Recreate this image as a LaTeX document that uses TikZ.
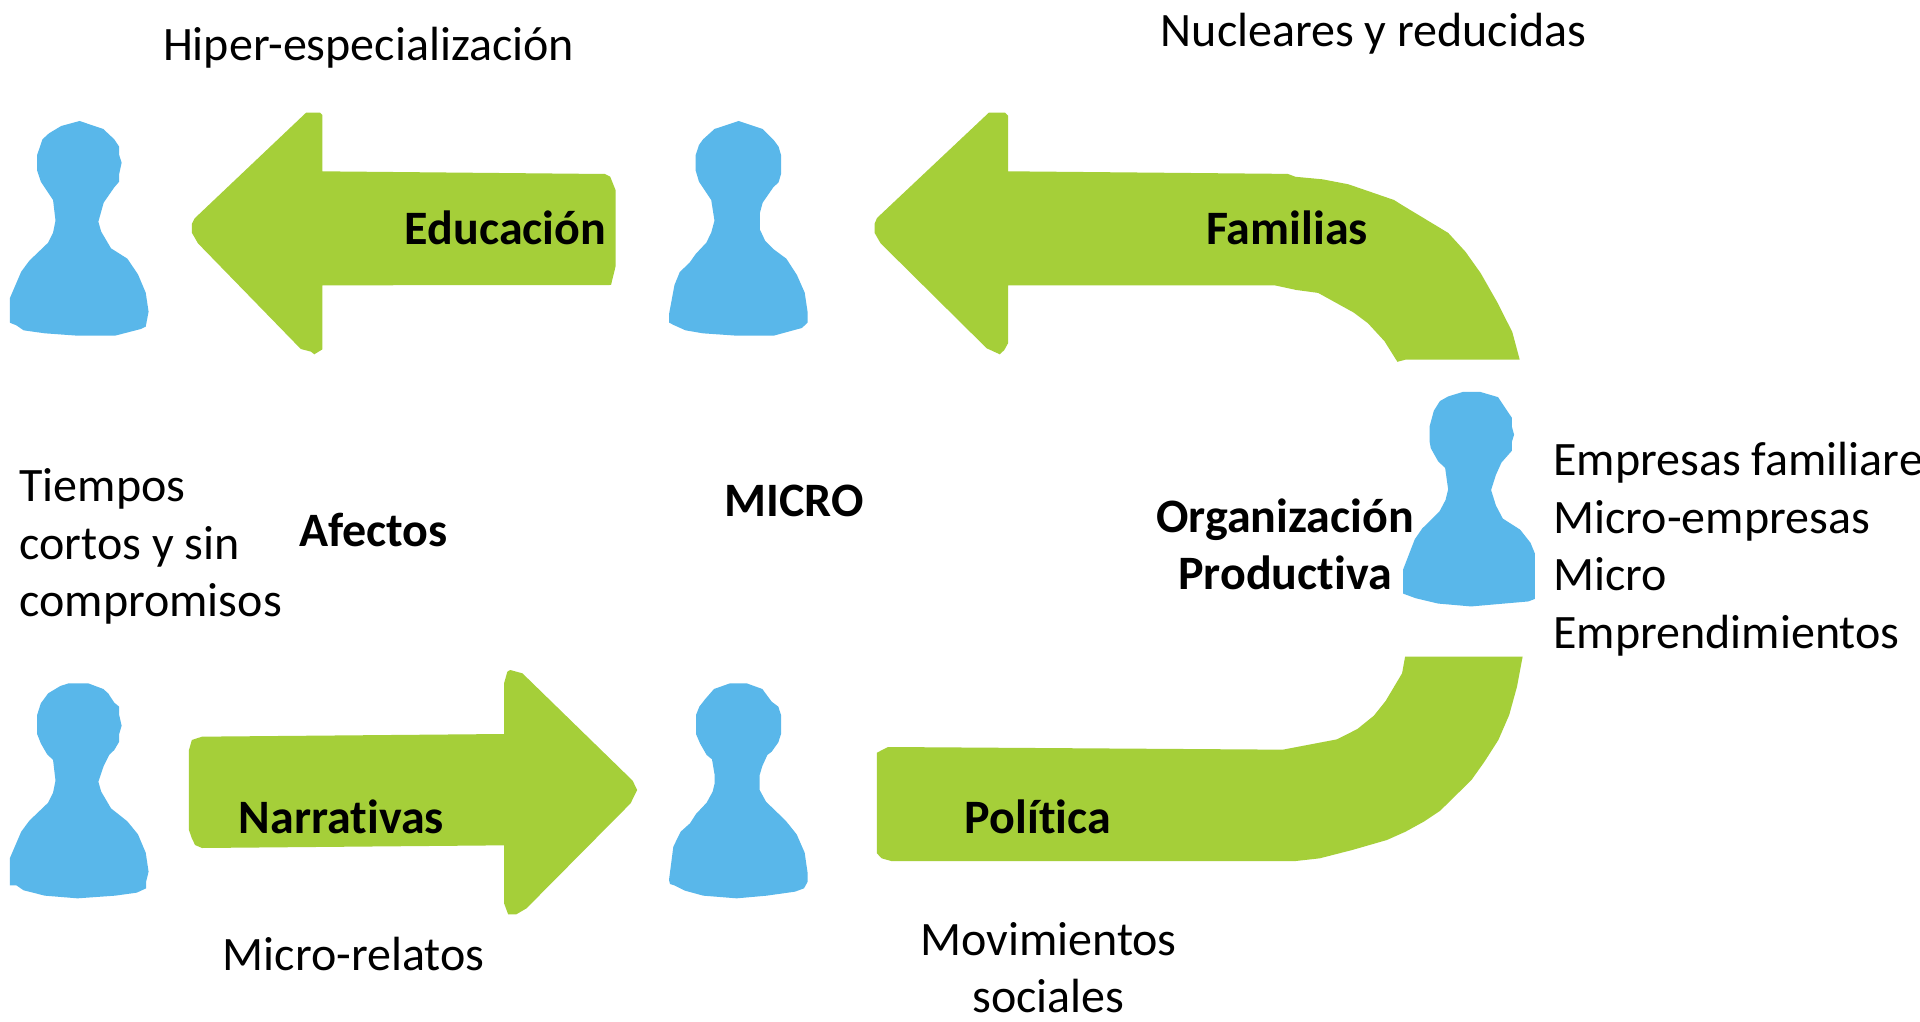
\documentclass[tikz,border=0pt]{standalone}
\usepackage{fontspec}
\setmainfont[Ligatures=NoCommon]{Carlito}
\definecolor{personblue}{RGB}{89,183,234}
\definecolor{arrowgreen}{RGB}{165,207,57}
\tikzset{
  person/.style={fill=personblue,draw=none},
  bigarrow/.style={fill=arrowgreen,draw=none},
  lbl/.style={font=\fontsize{48}{57.5}\selectfont,inner sep=0pt,outer sep=0pt,text=black},
  lblb/.style={lbl,font=\fontsize{48}{57.5}\selectfont\bfseries},
  zoomA/.style={x=0.40816pt,y=-0.33333pt},
  zoomB/.style={x=0.43366pt,y=-0.35714pt},
  zoomC/.style={x=0.43366pt,y=-0.33333pt},
  zoomD/.style={x=0.33333pt,y=-0.33333pt}
}
\begin{document}
\begin{tikzpicture}[x=1pt,y=-1pt]
\useasboundingbox[fill=white] (0,0) rectangle (1920,1022);
% persons
\begin{scope}[shift={(0,100)},zoomA]
\path[person] (195,63)--(253,87)--(280,118)--(292,140)--(292,165)--(298,188)--(292,222)--(292,245)--(280,262)--(254,308)--(241,365)--(248,395)--(272,445)--(312,476)--(338,523)--(357,578)--(364,635)--(357,680)--(345,687)--(282,707)--(190,707)--(110,700)--(58,691)--(40,676)--(24,668)--(24,595)--(52,515)--(72,482)--(118,428)--(130,398)--(136,362)--(130,300)--(100,245)--(91,212)--(91,165)--(104,118)--(120,100)--(150,78)--cycle;
\path[bigarrow] (750,38)--(784,38)--(790,45)--(790,214)--(1482,222)--(1495,230)--(1508,270)--(1508,500)--(1497,555)--(790,556)--(790,748)--(770,763)--(762,755)--(737,747)--(485,430)--(470,398)--(470,372)--(477,355)--cycle;
\end{scope}
\begin{scope}[shift={(650,100)},zoomA]
\path[person] (217,63)--(276,87)--(303,120)--(315,140)--(321,165)--(321,222)--(315,247)--(302,262)--(276,308)--(269,340)--(269,388)--(282,422)--(302,447)--(334,476)--(360,525)--(379,578)--(386,635)--(386,668)--(372,684)--(303,707)--(212,707)--(130,700)--(87,691)--(58,675)--(47,668)--(47,640)--(60,555)--(73,516)--(97,488)--(112,462)--(138,428)--(150,398)--(158,362)--(150,300)--(120,245)--(112,212)--(112,165)--(120,135)--(130,118)--(158,87)--cycle;
\end{scope}
\begin{scope}[shift={(0,660)},zoomA]
\path[person] (168,70)--(216,70)--(253,87)--(265,100)--(280,128)--(292,140)--(292,165)--(298,197)--(292,222)--(292,245)--(280,270)--(268,284)--(254,318)--(241,365)--(248,395)--(272,445)--(312,484)--(338,523)--(357,578)--(364,635)--(358,665)--(358,685)--(335,698)--(282,707)--(190,715)--(110,707)--(58,691)--(40,676)--(24,676)--(24,595)--(52,515)--(72,482)--(118,428)--(130,398)--(136,362)--(130,300)--(115,282)--(100,250)--(91,222)--(91,165)--(100,130)--(118,100)--(148,78)--cycle;
\path[bigarrow] (495,230)--(1235,222)--(1235,70)--(1243,35)--(1250,30)--(1280,40)--(1550,362)--(1561,390)--(1545,430)--(1290,745)--(1265,763)--(1245,763)--(1235,730)--(1235,556)--(495,564)--(478,555)--(470,535)--(463,510)--(463,270)--(470,240)--cycle;
\end{scope}
\begin{scope}[shift={(640,660)},zoomD]
\path[person] (270,70)--(320,70)--(367,87)--(395,125)--(415,140)--(423,165)--(423,222)--(415,247)--(395,275)--(382,285)--(367,318)--(359,345)--(359,390)--(378,425)--(437,482)--(470,523)--(494,578)--(503,640)--(503,665)--(492,685)--(465,695)--(380,707)--(290,715)--(190,707)--(135,692)--(103,676)--(90,672)--(87,660)--(100,560)--(122,515)--(150,490)--(168,462)--(200,428)--(218,395)--(224,370)--(224,345)--(216,298)--(200,285)--(180,250)--(168,222)--(168,165)--(178,140)--(195,118)--(222,87)--cycle;
\end{scope}
\begin{scope}[shift={(1240,100)},zoomB]
\path[person] (515,817)--(553,817)--(595,832)--(627,890)--(627,915)--(632,937)--(627,957)--(627,982)--(603,1015)--(590,1050)--(579,1092)--(590,1135)--(606,1172)--(646,1203)--(670,1240)--(680,1270)--(680,1397)--(665,1404)--(533,1418)--(457,1410)--(405,1395)--(376,1382)--(376,1315)--(403,1230)--(420,1200)--(460,1152)--(474,1120)--(480,1090)--(473,1030)--(457,1012)--(440,975)--(437,955)--(437,915)--(447,870)--(461,843)--(480,830)--cycle;
\end{scope}
% curved arrows
\path[bigarrow] (988.8,112.7)--(1005.1,112.7)--(1008,115.7)--(1008,171.3)--(1287.7,173.9)--(1295.5,176.8)--(1322.4,179.3)--(1348.4,184.3)--(1394,200)--(1402.6,205.4)--(1448.2,232.9)--(1465.5,251.8)--(1480.7,273.2)--(1498,303.6)--(1512.3,332.1)--(1519.7,359.6)--(1405.7,359.6)--(1397.4,361.8)--(1384.4,341.1)--(1367.9,323.2)--(1353.6,312.5)--(1318.1,292.9)--(1296.4,290)--(1274.5,285.3)--(1008,285.3)--(1008,343.3)--(1004.3,350)--(999.8,354.3)--(986.7,348.3)--(880.6,243.3)--(874.5,232.7)--(874.5,224)--(877,218)--cycle;
\begin{scope}[shift={(860,640)},zoomC]
\path[bigarrow] (1257,50)--(1528,50)--(1515,140)--(1497,225)--(1472,300)--(1440,365)--(1410,420)--(1338,512)--(1300,545)--(1258,575)--(1215,600)--(1135,630)--(1060,655)--(1005,663)--(72,663)--(50,655)--(39,640)--(39,338)--(65,321)--(975,329)--(1100,298)--(1147,267)--(1185,227)--(1212,183)--(1250,100)--cycle;
\end{scope}
% labels
\node[lbl,anchor=base] (hiper) at (368.6,61) {Hiper-especialización};
\node[lbl,anchor=base] (nucleares) at (1373.5,47) {Nucleares y reducidas};
\node[lblb,anchor=base] (educacion) at (505.5,244) {Educación};
\node[lblb,anchor=base] (familias) at (1287,244) {Familias};
\node[lbl,anchor=base west] (tiempos1) at (19.6,501) {Tiempos};
\node[lbl,anchor=base west] (tiempos2) at (19.6,559) {cortos y sin};
\node[lbl,anchor=base west] (tiempos3) at (19.6,616) {compromisos};
\node[lblb,anchor=base] (afectos) at (373.5,546) {Afectos};
\node[lblb,anchor=base] (micro) at (794,516) {MICRO};
\node[lblb,anchor=base] (org1) at (1285,532) {Organización};
\node[lblb,anchor=base] (org2) at (1285,589) {Productiva};
\node[lbl,anchor=base west] (emp1) at (1553.5,475) {Empresas familiare};
\node[lbl,anchor=base west] (emp2) at (1553.5,533) {Micro-empresas};
\node[lbl,anchor=base west] (emp3) at (1553.5,590) {Micro};
\node[lbl,anchor=base west] (emp4) at (1553.5,648) {Emprendimientos};
\node[lblb,anchor=base] (narrativas) at (341.4,833) {Narrativas};
\node[lblb,anchor=base] (politica) at (1038,833) {Política};
\node[lbl,anchor=base] (relatos) at (353.5,970) {Micro-relatos};
\node[lbl,anchor=base] (mov1) at (1048.5,955) {Movimientos};
\node[lbl,anchor=base] (mov2) at (1048.5,1012.5) {sociales};
\end{tikzpicture}
\end{document}
